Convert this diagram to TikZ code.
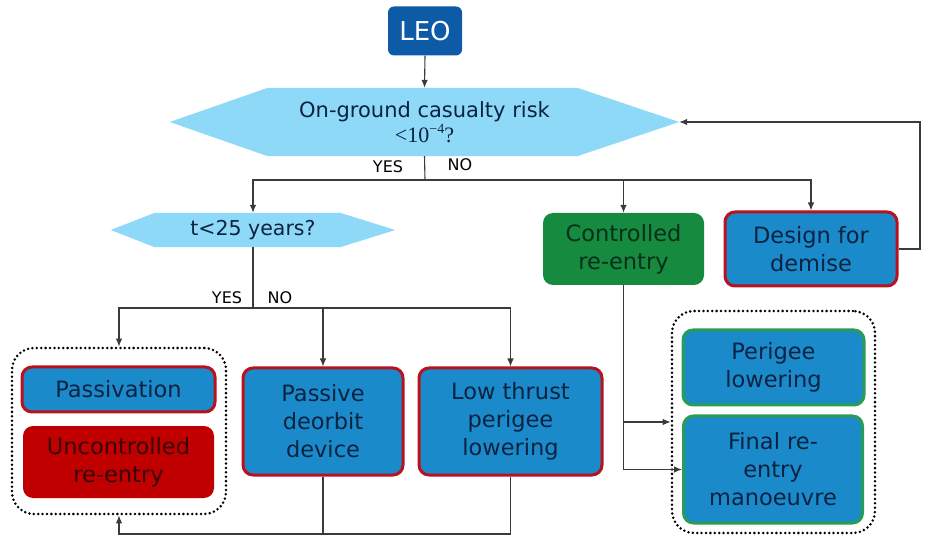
\documentclass[tikz,border=0pt]{standalone}
\usepackage{fontspec}
\setmainfont{DejaVu Sans}
\newfontfamily\serifmath{Liberation Serif}
\usetikzlibrary{arrows.meta,backgrounds,calc}
\definecolor{leoc}{HTML}{0D5AA7}
\definecolor{hexc}{HTML}{8ED8F8}
\definecolor{bfill}{HTML}{1B8ACB}
\definecolor{rborder}{HTML}{B8121E}
\definecolor{gfill}{HTML}{168A3F}
\definecolor{gborder}{HTML}{2A9D55}
\definecolor{navy}{HTML}{0B2340}
\definecolor{gtext}{HTML}{06301A}
\definecolor{ufill}{HTML}{C00000}
\definecolor{utext}{HTML}{3A0505}
\definecolor{lnc}{HTML}{3A3A3A}
\tikzset{
  box/.style={rectangle, rounded corners=10pt, inner sep=0pt, align=center,
    font=\fontsize{22.5}{28}\selectfont},
  bluered/.style={box, fill=bfill, draw=rborder, line width=3pt, text=navy},
  bluegreen/.style={box, fill=bfill, draw=gborder, line width=3pt, text=navy},
  greenbox/.style={box, fill=gfill, text=gtext},
  redbox/.style={box, fill=ufill, text=utext},
  leobox/.style={rectangle, rounded corners=6pt, fill=leoc, text=white, inner sep=0pt,
    font=\fontsize{26}{30}\selectfont},
  hexnode/.style={rectangle, inner sep=0pt, align=center, text=navy},
  conn/.style={draw=lnc, line width=1.1pt},
  arr/.style={conn, -{Latex[length=8pt,width=6.5pt]}},
  grp/.style={rectangle, draw=black, line width=2.8pt, dash pattern=on 0pt off 4.4pt,
    line cap=round, rounded corners=22pt, inner sep=0pt},
  lbl/.style={font=\fontsize{16}{18}\selectfont, text=black, inner sep=0pt},
}
\begin{document}
\begin{tikzpicture}[x=1pt,y=-1pt]
\useasboundingbox (0,0) rectangle (935,537);

% top
\node[leobox, minimum width=74pt, minimum height=49pt] (leo) at (425,31) {LEO};
\node[hexnode, minimum width=509pt, minimum height=68pt,
      font=\fontsize{21}{25}\selectfont] (q1) at (424.5,122)
      {On-ground casualty risk\\{\serifmath\fontsize{22}{25}\selectfont <10\raisebox{0.42em}{\fontsize{14}{14}\selectfont −4}?}};
\node[hexnode, minimum width=284pt, minimum height=34pt,
      font=\fontsize{20.5}{24}\selectfont] (q2) at (253,230) {t<25 years?};

% right branch
\node[greenbox, minimum width=161pt, minimum height=72pt] (ctrl) at (623.5,249) {Controlled\\re-entry};
\node[bluered, minimum width=172pt, minimum height=74pt] (dfd) at (811,249) {Design for\\demise};

% left group
\node[grp, minimum width=214pt, minimum height=166pt] (grpL) at (119,431) {};
\node[bluered, minimum width=193pt, minimum height=45pt] (pas) at (118.5,389.5) {Passivation};
\node[redbox, minimum width=191pt, minimum height=72pt] (unc) at (118.5,462) {Uncontrolled\\re-entry};

% middle
\node[bluered, minimum width=160pt, minimum height=107pt] (pdd) at (323,421.5) {Passive\\deorbit\\device};
\node[bluered, minimum width=183pt, minimum height=107pt] (ltp) at (510.5,421.5) {Low thrust\\perigee\\lowering};

% right group
\node[grp, minimum width=203pt, minimum height=222pt] (grpR) at (773.5,422) {};
\node[bluegreen, minimum width=181pt, minimum height=75pt] (pl) at (773.5,367.5) {Perigee\\lowering};
\node[bluegreen, minimum width=179pt, minimum height=107pt] (fre) at (773,469.5) {Final re-\\entry\\manoeuvre};

% labels
\node[lbl] (yes1) at (388,167) {YES};
\node[lbl] (no1) at (460,165) {NO};
\node[lbl] (yes2) at (227,298) {YES};
\node[lbl] (no2) at (280,298) {NO};

% junctions
\coordinate (j1) at (425,180);
\coordinate (j2) at (253,308);
\coordinate (fb) at (920,122);
\coordinate (bot) at (0,534);

% connectors
\draw[arr] (leo.south) -- (q1.north);
\draw[conn] (q1.south) -- (j1);
\draw[arr] (j1) -| (q2.north);
\draw[arr] (j1) -| (ctrl.north);
\draw[arr] (j1) -| (dfd.north);
\draw[arr] (dfd.east) -| (fb) -- (q1.east);

\draw[conn] (q2.south) -- (j2);
\draw[arr] (j2) -| (grpL.north);
\draw[arr] (j2) -| (pdd.north);
\draw[arr] (j2) -| (ltp.north);

\draw[conn] (pdd.south) -- (pdd.south |- bot);
\draw[arr] (ltp.south) |- (grpL.south |- bot) -- (grpL.south);

\draw[arr] (ctrl.south) |- (fre.west);
\draw[arr] (ctrl.south) |- (grpR.west);

% backgrounds
\begin{pgfonlayer}{background}
  \fill[white] (0,0) rectangle (935,537);
  \fill[hexc] (q1.west) -- ([xshift=98pt]q1.north west) -- ([xshift=-102pt]q1.north east)
     -- (q1.east) -- ([xshift=-102pt]q1.south east) -- ([xshift=98pt]q1.south west) -- cycle;
  \fill[hexc] (q2.west) -- ([xshift=44pt]q2.north west) -- ([xshift=-55pt]q2.north east)
     -- (q2.east) -- ([xshift=-55pt]q2.south east) -- ([xshift=44pt]q2.south west) -- cycle;
\end{pgfonlayer}
\end{tikzpicture}
\end{document}
